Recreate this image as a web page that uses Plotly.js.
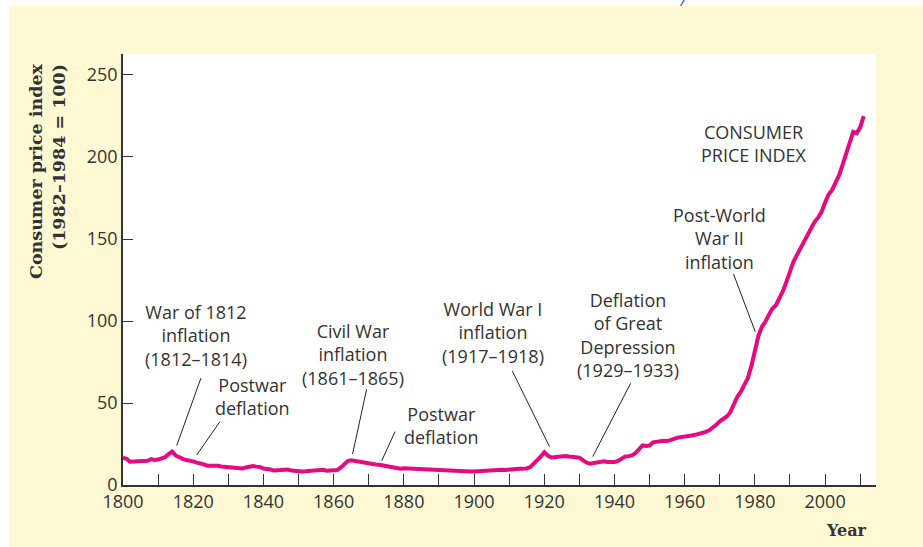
<!DOCTYPE html>
<html>
<head>
<meta charset="utf-8">
<script src="https://cdn.plot.ly/plotly-3.0.1.min.js"></script>
<style>
  html, body { margin: 0; padding: 0; background: #ffffff; width: 923px; height: 547px; overflow: hidden; }
  #chart { position: absolute; left: 9px; top: 6px; width: 914px; height: 541px; }
  #cut { position: absolute; left: 679px; top: -9px; font: italic 17px "Open Sans"; color: #3558a8; }
</style>
</head>
<body>
<span id="cut">/</span>
<div id="chart"></div>
<script>
// years 1800-2011, one value per year (CPI, 1982-1984 = 100)
const years = [];
for (let y = 1800; y <= 2011; y++) years.push(y);

// 1800-1912
const cpiEarly = [
  16.6, 16.0, 14.2, 14.3, 14.8, 14.6, 15.2, 14.8, 15.8, 15.3,
  15.5, 16.3, 17.0, 18.8, 20.3, 18.0, 16.6, 15.9, 15.2, 15.0,
  14.4, 13.6, 13.3, 12.6, 11.8, 11.9, 11.8, 11.7, 11.3, 11.1,
  11.1, 10.6, 10.5, 9.9, 10.1, 10.7, 11.4, 11.6, 11.2, 11.0,
  10.0, 10.0, 9.4, 8.8, 8.9, 9.0, 9.0, 9.4, 8.8, 8.5,
  8.3, 8.3, 8.4, 8.5, 9.2, 9.3, 9.2, 9.3, 8.7, 8.9,
  8.9, 9.1, 10.6, 12.8, 14.6, 15.0, 14.6, 14.0, 13.6, 13.2,
  12.9, 12.6, 12.5, 12.3, 11.9, 11.5, 11.1, 10.7, 10.1, 9.9,
  10.2, 10.1, 10.0, 9.8, 9.4, 9.1, 9.0, 9.1, 9.1, 8.9,
  8.9, 8.8, 8.7, 8.6, 8.3, 8.1, 8.1, 8.0, 8.0, 8.2,
  8.3, 8.5, 8.7, 8.9, 8.9, 9.0, 9.1, 9.5, 9.3, 9.2,
  9.6, 9.6, 9.8
];
// 1913-2011
const cpiLate = [
  9.9, 10.0, 10.1, 10.9, 12.8, 15.1, 17.3,
  20.0, 17.9, 16.8, 17.1, 17.1, 17.5, 17.7, 17.4, 17.1, 17.1,
  16.7, 15.2, 13.7, 13.0, 13.4, 13.7, 13.9, 14.4, 14.1, 13.9,
  14.0, 14.7, 16.3, 17.3, 17.6, 18.0, 19.5, 22.3, 24.1, 23.8,
  24.1, 26.0, 26.5, 26.7, 26.9, 26.8, 27.2, 28.1, 28.9, 29.1,
  29.6, 29.9, 30.2, 30.6, 31.0, 31.5, 32.4, 33.4, 34.8, 36.7,
  38.8, 40.5, 41.8, 44.4, 49.3, 53.8, 56.9, 60.6, 65.2, 72.6,
  82.4, 90.9, 96.5, 99.6, 103.9, 107.6, 109.6, 113.6, 118.3, 124.0,
  130.7, 136.2, 140.3, 144.5, 148.2, 152.4, 156.9, 160.5, 163.0, 166.6,
  172.2, 177.1, 179.9, 184.0, 188.9, 195.3, 201.6, 207.3, 215.3, 214.5,
  218.1, 224.9
];
const cpi = cpiEarly.concat(cpiLate);

const xTicks = [];
for (let t = 1800; t <= 2010; t += 10) xTicks.push(t);
const xTickText = xTicks.map(t => (t % 20 === 0 && t <= 2000) ? String(t) : "");
const yTicks = [0, 50, 100, 150, 200, 250];

// callouts: label, label position, leader line (from, to)
const noteText = [
  "War of 1812<br>inflation<br>(1812–1814)",
  "Postwar<br>deflation",
  "Civil War<br>inflation<br>(1861–1865)",
  "Postwar<br>deflation",
  "World War I<br>inflation<br>(1917–1918)",
  "Deflation<br>of Great<br>Depression<br>(1929–1933)",
  "Post-World<br>War II<br>inflation",
  "CONSUMER<br>PRICE INDEX"
];
const noteX = [1820.8, 1837.0, 1865.4, 1890.8, 1905.5, 1943.9, 1969.8, 1979.8];
const noteY = [90.9, 53.7, 79.6, 36.0, 92.9, 91.2, 150.6, 208.2];
const leadX0 = [1822.2, 1827.6, 1869.4, 1877.5, 1910.9, 1944.6, 1973.9];
const leadY0 = [65.2, 38.6, 58.4, 32.5, 69.5, 62.0, 128.7];
const leadX1 = [1815.3, 1821.0, 1865.4, 1873.7, 1921.5, 1933.8, 1980.1];
const leadY1 = [24.0, 18.3, 18.9, 14.8, 23.4, 17.3, 93.5];

const ink = "#333333";
const sans = "Open Sans, sans-serif";
const serif = "DejaVu Serif, serif";

const data = [{
  type: "scatter",
  mode: "lines",
  x: years,
  y: cpi,
  line: { color: "#e6097f", width: 4 },
  hoverinfo: "x+y"
}];

const annotations = noteText.map((t, i) => ({
  x: noteX[i], y: noteY[i], xref: "x", yref: "y",
  text: t, showarrow: false, align: "center",
  xanchor: "center", yanchor: "middle",
  font: { family: sans, size: 18, color: ink }
}));
annotations.push({
  xref: "paper", yref: "paper", x: -0.1, y: 0.983,
  xanchor: "center", yanchor: "top", textangle: -90, align: "right",
  text: "Consumer price index<br>(1982–1984 = 100)", showarrow: false,
  font: { family: serif, size: 17.5, color: ink, weight: "bold" }
});
annotations.push({
  xref: "paper", yref: "paper", x: 0.961, y: -0.106,
  xanchor: "center", yanchor: "middle",
  text: "<b>Year</b>", showarrow: false,
  font: { family: serif, size: 16, color: ink }
});

const shapes = leadX0.map((x0, i) => ({
  type: "line", xref: "x", yref: "y",
  x0: x0, y0: leadY0[i], x1: leadX1[i], y1: leadY1[i],
  line: { color: "#222222", width: 1 }
}));

const layout = {
  width: 914, height: 541,
  margin: { l: 114, r: 47, t: 48, b: 62 },
  paper_bgcolor: "#fef9d3",
  plot_bgcolor: "#ffffff",
  showlegend: false,
  xaxis: {
    range: [1800, 2014.5],
    tickvals: xTicks, ticktext: xTickText,
    ticks: "inside", ticklen: 11, tickwidth: 1.2, tickcolor: ink,
    showline: true, linecolor: ink, linewidth: 1.5,
    showgrid: false, zeroline: false,
    tickfont: { family: sans, size: 18, color: ink }
  },
  yaxis: {
    range: [0, 262.8],
    tickvals: yTicks,
    ticks: "inside", ticklen: 10, tickwidth: 1.2, tickcolor: ink,
    showline: true, linecolor: ink, linewidth: 1.5,
    showgrid: false, zeroline: false,
    tickfont: { family: sans, size: 18, color: ink }
  },
  annotations: annotations,
  shapes: shapes
};

Plotly.newPlot("chart", data, layout, { displayModeBar: false, responsive: false });
</script>
</body>
</html>
